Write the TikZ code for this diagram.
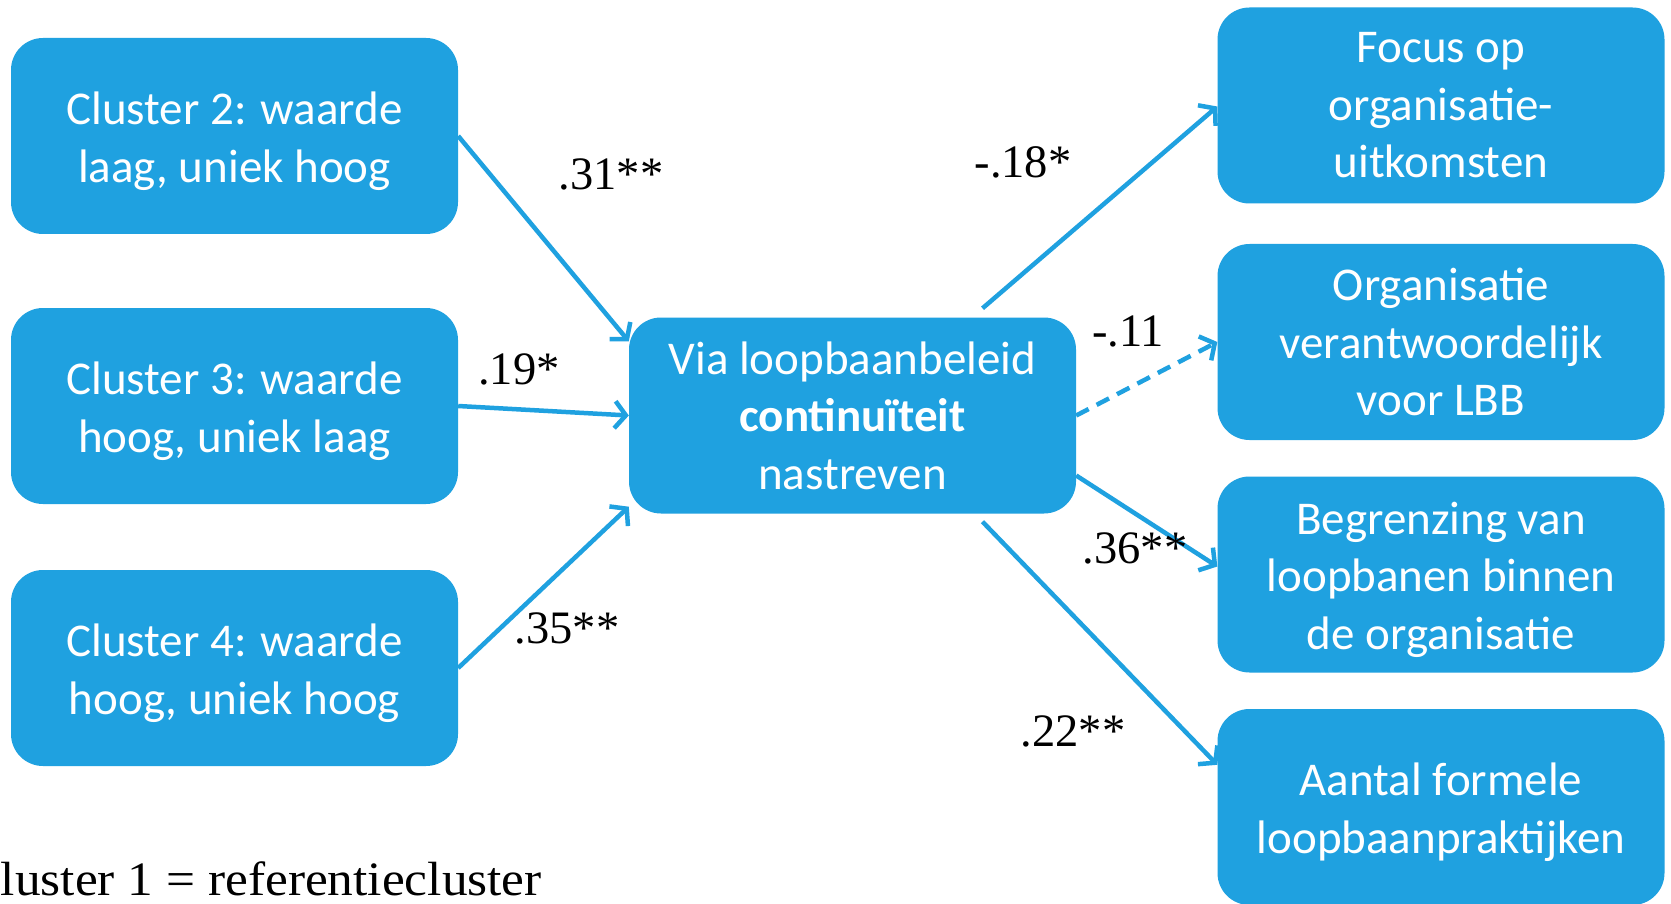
\documentclass[tikz,border=0pt]{standalone}
\usepackage{fontspec}
\setmainfont{Liberation Serif}
\newfontfamily\boxfont{Carlito}
\usetikzlibrary{calc,arrows.meta}
\definecolor{lbblauw}{RGB}{31,161,224}
\newcommand\hoog{\rule{0pt}{43pt}}
\tikzset{
  blok/.style={fill=lbblauw, text=white, rounded corners=32pt, minimum width=447pt,
    minimum height=196pt, inner sep=0pt, align=center,
    font=\boxfont\fontsize{47}{57.5}\selectfont},
  pijl/.style={draw=lbblauw, line width=4.5pt, -{Straight Barb[length=11pt,width=27pt]}},
  coef/.style={font=\fontsize{46.5}{50}\selectfont, inner sep=0pt}
}

\begin{document}
\begin{tikzpicture}[x=1pt, y=-1pt]
			%%%%% START %%%%%
			\clip (0,0) rectangle (1671,904);
			\fill[white] (0,0) rectangle (1671,904);
			
			\node[blok] (c2) at (234.5,136) {\hoog Cluster 2: waarde\\laag, uniek hoog};
			\node[blok] (c3) at (234.5,406) {\hoog Cluster 3: waarde\\hoog, uniek laag};
			\node[blok] (c4) at (234.5,668) {\hoog Cluster 4: waarde\\hoog, uniek hoog};
			
			\node[blok] (mid) at (852.5,415.5) {Via loopbaanbeleid\\\textbf{continuïteit}\\nastreven};
			
			\node[blok] (focus) at (1441,105.5) {Focus op\\organisatie-\\uitkomsten};
			\node[blok] (org) at (1441,342) {Organisatie\\verantwoordelijk\\voor LBB};
			\node[blok] (begr) at (1441,574.5) {\hoog Begrenzing van\\loopbanen binnen\\de organisatie};
			\node[blok] (aantal) at (1441,807) {\hoog Aantal formele\\loopbaanpraktijken};
			
			\draw[pijl] (c2.east) -- ($(mid.north west)+(0,24)$);
			\draw[pijl] (c3.east) -- (mid.west);
			\draw[pijl] (c4.east) -- ($(mid.south west)+(0,-7)$);
			
			\draw[pijl] ($(mid.north)+(130,-9)$) -- ($(focus.west)+(0,1)$);
			\draw[pijl, dash pattern=on 14pt off 9pt] (mid.east) -- (org.west);
			\draw[pijl] ($(mid.east)+(0,60)$) -- ($(begr.west)+(0,-8)$);
			\draw[pijl] ($(mid.south)+(130,8)$) -- ($(aantal.north west)+(0,56)$);
			
			\node[coef] (k1) at (611,174) {.31**};
			\node[coef] (k2) at (519,369) {.19*};
			\node[coef] (k3) at (567,628) {.35**};
			\node[coef] (k4) at (1023,162) {-.18*};
			\node[coef] (k5) at (1128,331) {-.11};
			\node[coef] (k6) at (1135,548) {.36**};
			\node[coef] (k7) at (1073,731) {.22**};
			
			\node[coef, font=\fontsize{48}{50}\selectfont, anchor=base east] (ref) at (542,895)
			  {\scalebox{1.07}[1]{Cluster 1 = referentiecluster}};
			%%%%% END %%%%%
		\end{tikzpicture}
\end{document}
